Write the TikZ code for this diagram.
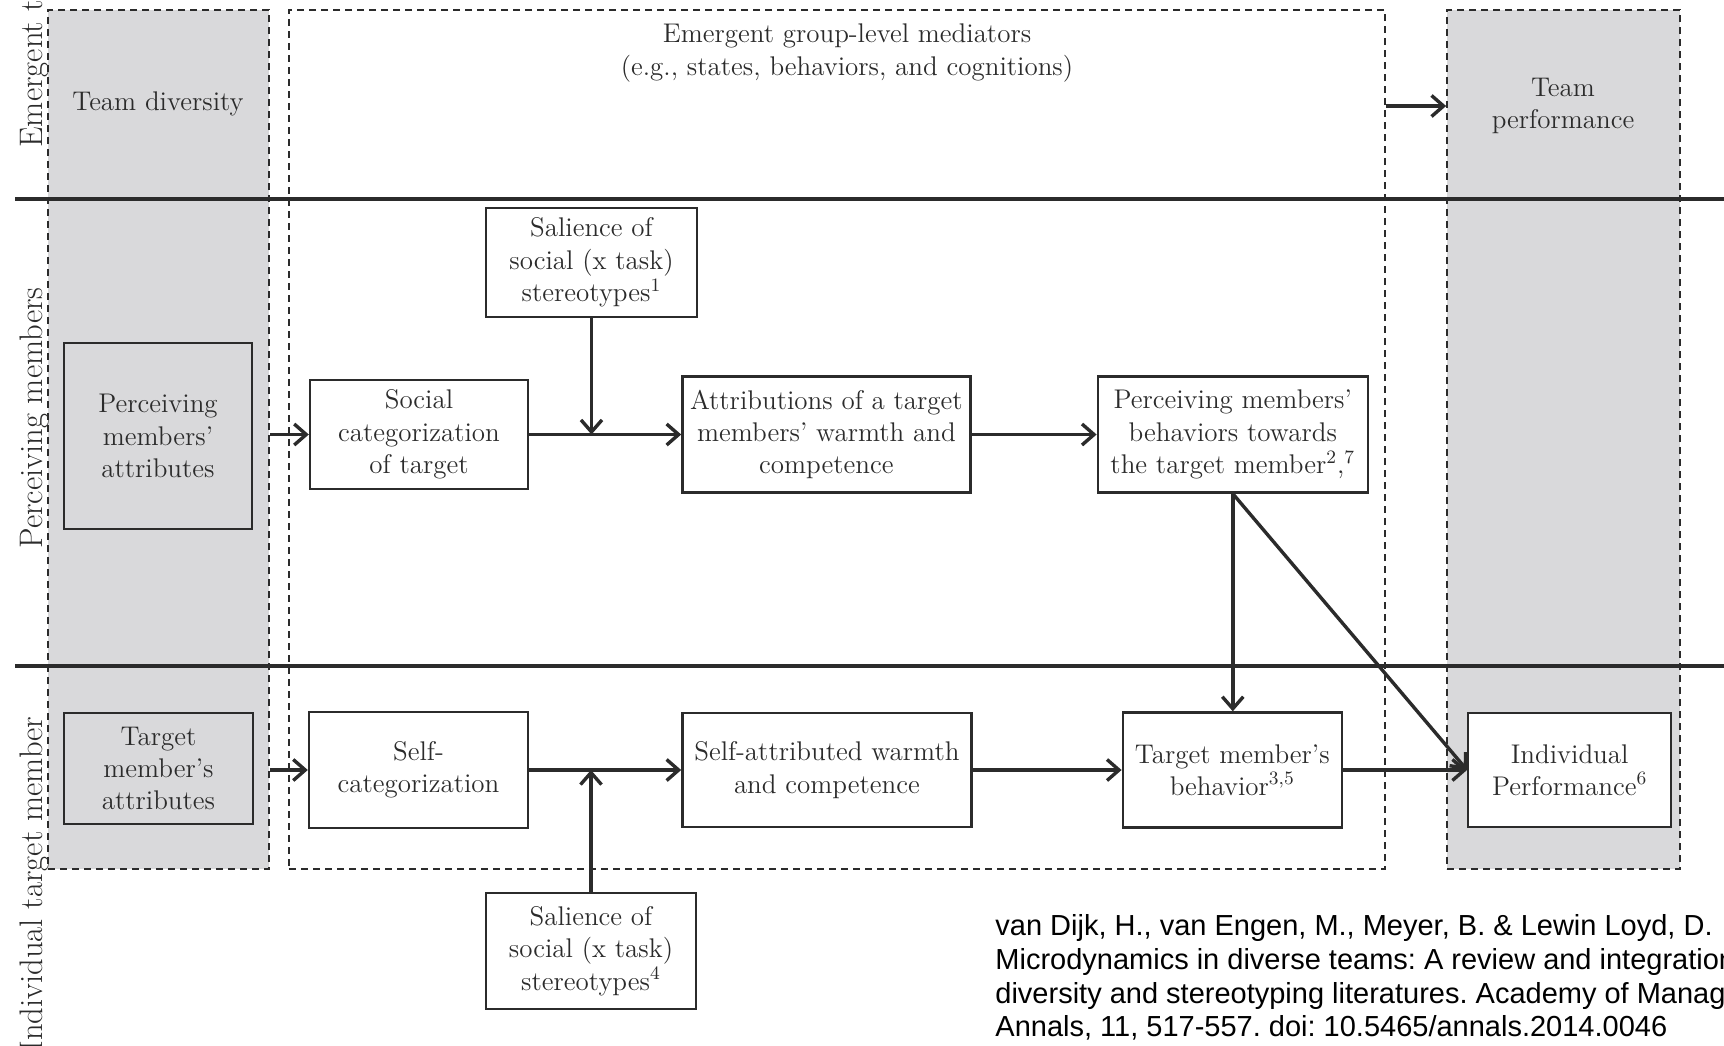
\documentclass[tikz,border=0pt]{standalone}
\usepackage{fontspec}
\usetikzlibrary{arrows.meta,positioning}
\newfontfamily\citefont{Liberation Sans}
\definecolor{BandGray}{HTML}{D9D9DB}
\definecolor{InkDark}{HTML}{2B2B2B}
\newcommand{\boxfont}{\fontsize{13.5}{16.2}\selectfont}
\newcommand{\sidefont}{\fontsize{16.3}{19}\selectfont}
\frenchspacing

\begin{document}
\begin{tikzpicture}[
  x=0.5pt, y=-0.5pt,
  font=\boxfont,
  band/.style={draw=InkDark, dash pattern=on 3.5pt off 2.5pt, line width=0.9pt,
    minimum height=429.5pt, inner sep=0pt},
  graybox/.style={draw=InkDark, line width=1.2pt, fill=BandGray, align=center, text=InkDark},
  box/.style={draw=InkDark, line width=1.2pt, fill=white, align=center, text=InkDark, inner sep=1pt},
  sidelabel/.style={font=\sidefont, rotate=90, anchor=base west, inner sep=0pt, text=InkDark},
  divider/.style={draw=InkDark, line width=2pt},
  arr/.style={-{Straight Barb[length=6pt, width=10.5pt]}, line width=1.7pt, draw=InkDark}
]
\useasboundingbox (0,0) rectangle (1724,1045);

\node[band, fill=BandGray, minimum width=110.5pt] (divcol) at (158.5,439.5) {};
\node[band, minimum width=548pt] (medbox) at (837,439.5) {};
\node[band, fill=BandGray, minimum width=116.5pt] (perfcol) at (1563.5,439.5) {};

\draw[divider] (15,199) -- (1724,199);
\draw[divider] (15,666) -- (1724,666);

\node[sidelabel] (lblteam) at (42,148) {Emergent team};
\node[sidelabel] (lblperc) at (42,549) {Perceiving members};
\node[sidelabel] (lbltarg) at (42,1052) {Individual target member};

\node[text=InkDark] (teamdiv) at (158,104) {Team diversity};
\node[text=InkDark, align=center] (mediators) at (847,53) {Emergent group-level mediators\\(e.g., states, behaviors, and cognitions)};
\node[text=InkDark, align=center] (teamperf) at (1563,106) {Team\\performance};

\node[graybox, minimum width=94pt, minimum height=93pt] (pma) at (158,436) {Perceiving\\members’\\attributes};
\node[graybox, minimum width=94.5pt, minimum height=55.5pt] (tma) at (158.5,768.5) {Target\\member’s\\attributes};

\node[box, minimum width=105.5pt, minimum height=54.5pt] (sal1) at (591.5,262.5) {Salience of\\social (x task)\\stereotypes\textsuperscript{1}};
\node[box, minimum width=105pt, minimum height=58pt] (sal2) at (591,951) {Salience of\\social (x task)\\stereotypes\textsuperscript{4}};

\node[box, minimum width=109pt, minimum height=54.5pt] (socat) at (419,434.5) {Social\\categorization\\of target};
\node[box, minimum width=144pt, minimum height=58pt, right=76pt of socat] (attr) {Attributions of a target\\members’ warmth and\\competence};
\node[box, minimum width=135pt, minimum height=58pt, right=62.5pt of attr] (pmb) {Perceiving members’\\behaviors towards\\the target member\textsuperscript{2},\textsuperscript{7}};

\node[box, minimum width=109.5pt, minimum height=58pt] (selfcat) at (418.5,770) {Self-\\categorization};
\node[box, minimum width=144.5pt, minimum height=57pt, right=76pt of selfcat] (selfattr) {Self-attributed warmth\\and competence};
\node[box, minimum width=109.5pt, minimum height=57.5pt, right=74.5pt of selfattr] (tmb) {Target member’s\\behavior\textsuperscript{3,5}};
\node[box, minimum width=101.5pt, minimum height=57pt, right=62pt of tmb] (ip) {Individual\\Performance\textsuperscript{6}};

\node[anchor=north west, inner sep=0pt, align=left, font=\citefont\fontsize{14.5}{16.9}\selectfont] (cite) at (995,914)
  {van Dijk, H., van Engen, M., Meyer, B. \& Lewin Loyd, D.\\
   Microdynamics in diverse teams: A review and integration\\
   diversity and stereotyping literatures. Academy of Management\\
   Annals, 11, 517-557. doi: 10.5465/annals.2014.0046};

\draw[arr] (medbox.east |- teamperf) -- (perfcol.west |- teamperf);
\draw[arr] (divcol.east |- socat.west) -- (socat.west);
\draw[arr] (divcol.east |- selfcat.west) -- (selfcat.west);
\draw[arr] (socat) -- (attr);
\draw[arr] (sal1) -- (sal1.south |- attr.west);
\draw[arr] (selfcat) -- (selfattr);
\draw[arr] (sal2) -- (sal2.north |- selfattr.west);
\draw[arr] (attr) -- (pmb);
\draw[arr] (selfattr) -- (tmb);
\draw[arr] (pmb.south) -- (pmb.south |- tmb.north);
\draw[arr] (pmb.south) -- (ip.west);
\draw[arr] (tmb) -- (ip);
\end{tikzpicture}
\end{document}
